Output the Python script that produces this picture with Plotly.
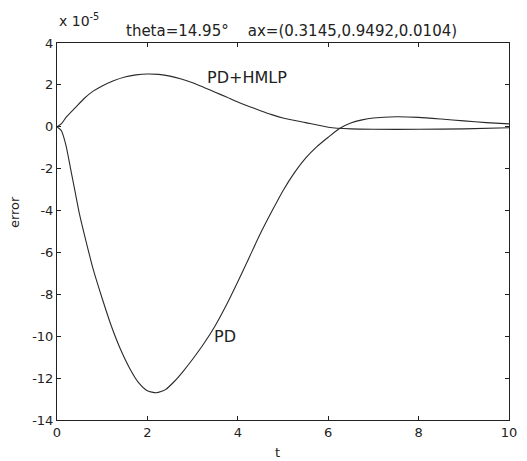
import plotly.graph_objects as go

# error values in units of 1e-5
t_pd = [0, 0.1, 0.2, 0.3, 0.4, 0.5, 0.6, 0.8, 1.0, 1.2, 1.4, 1.6, 1.8, 2.0, 2.2, 2.4, 2.6,
        2.8, 3.0, 3.25, 3.5, 3.75, 4.0, 4.25, 4.5, 4.75, 5.0, 5.25, 5.5, 5.75, 6.0, 6.25,
        6.5, 6.75, 7.0, 7.5, 8.0, 8.5, 9.0, 9.5, 10.0]
e_pd = [0, -0.2, -0.9, -2.0, -3.1, -4.2, -5.1, -6.8, -8.2, -9.5, -10.6, -11.5, -12.2, -12.6,
        -12.7, -12.55, -12.15, -11.65, -11.1, -10.35, -9.5, -8.5, -7.4, -6.25, -5.1, -4.05,
        -3.05, -2.2, -1.5, -0.95, -0.5, -0.08, 0.18, 0.33, 0.42, 0.48, 0.45, 0.37, 0.28,
        0.2, 0.14]

t_hm = [0, 0.1, 0.2, 0.4, 0.6, 0.8, 1.0, 1.25, 1.5, 1.75, 2.0, 2.25, 2.5, 2.75, 3.0, 3.25,
        3.5, 3.75, 4.0, 4.25, 4.5, 4.75, 5.0, 5.5, 6.0, 6.5, 7.0, 8.0, 9.0, 10.0]
e_hm = [0, 0.15, 0.45, 0.9, 1.35, 1.7, 1.95, 2.2, 2.38, 2.48, 2.52, 2.5, 2.42, 2.28, 2.1,
        1.88, 1.65, 1.42, 1.18, 0.97, 0.77, 0.58, 0.42, 0.2, -0.02, -0.1, -0.12, -0.12,
        -0.1, -0.05]

x_ticks = [0, 2, 4, 6, 8, 10]
y_ticks = [-14, -12, -10, -8, -6, -4, -2, 0, 2, 4]
y_tick_text = ["-14", "-12", "-10", "-8", "-6", "-4", "-2", "0", "2", "4"]

title_text = "theta=14.95°    ax=(0.3145,0.9492,0.0104)"
exp_text = "x 10<sup>-5</sup>"
x_label = "t"
y_label = "error"
labels = [("PD+HMLP", 3.28, 2.33), ("PD", 3.43, -10.0)]

FONT = "DejaVu Sans, sans-serif"
TC = "#222"
LC = "#2a2a2a"

fig = go.Figure()
for tx, ey in [(t_pd, e_pd), (t_hm, e_hm)]:
    fig.add_trace(go.Scatter(x=tx, y=ey, mode="lines",
                             line=dict(color=LC, width=1.1, shape="spline", smoothing=0.6),
                             showlegend=False, hoverinfo="skip"))

for txt, x, y in labels:
    fig.add_annotation(x=x, y=y, text=txt, showarrow=False, xanchor="left", yanchor="middle",
                       font=dict(family=FONT, size=16, color=TC))

fig.add_annotation(xref="paper", yref="paper", x=0.5, y=1.0, xshift=8, yshift=1, text=title_text,
                   showarrow=False, xanchor="center", yanchor="bottom",
                   font=dict(family=FONT, size=15, color=TC))
fig.add_annotation(xref="paper", yref="paper", x=0.0, y=1.0, yshift=12, text=exp_text, showarrow=False,
                   xanchor="left", yanchor="bottom", font=dict(family=FONT, size=14, color=TC))
fig.add_annotation(xref="paper", yref="paper", x=-0.0925, y=0.552, text=y_label, textangle=-90,
                   showarrow=False, xanchor="center", yanchor="middle",
                   font=dict(family=FONT, size=13, color=TC))
fig.add_annotation(xref="paper", yref="paper", x=0.488, y=-0.0875, text=x_label,
                   showarrow=False, xanchor="center", yanchor="middle",
                   font=dict(family=FONT, size=13, color=TC))

axis_common = dict(showgrid=False, zeroline=False, showline=True, linecolor="#222", linewidth=1,
                   mirror="allticks", ticks="inside", ticklen=4, tickcolor="#222",
                   tickfont=dict(family=FONT, size=13, color=TC))

fig.update_layout(
    width=527, height=461,
    margin=dict(l=57, r=10, t=43, b=41),
    paper_bgcolor="white", plot_bgcolor="white",
    xaxis=dict(range=[0, 10], tickvals=x_ticks, ticktext=[str(v) for v in x_ticks], **axis_common),
    yaxis=dict(range=[-14, 4], tickvals=y_ticks, ticktext=y_tick_text, **axis_common),
)

fig.write_html("out.html")
